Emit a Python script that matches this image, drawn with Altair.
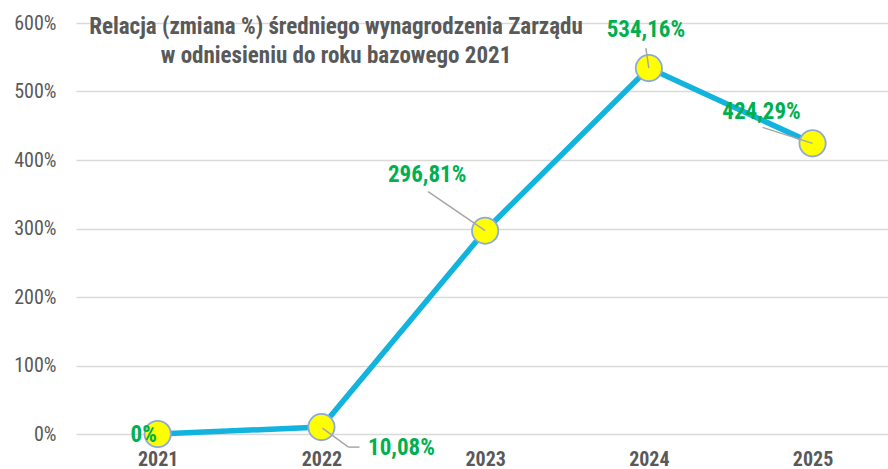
import altair as alt
import pandas as pd

years = ["2021", "2022", "2023", "2024", "2025"]
values = [0, 10.08, 296.81, 534.16, 424.29]
labels = ["0%", "10,08%", "296,81%", "534,16%", "424,29%"]
title_lines = ["Relacja (zmiana %) średniego wynagrodzenia Zarządu",
               "w odniesieniu do roku bazowego 2021"]

df = pd.DataFrame({"year": years, "value": values, "label": labels})

FONT = "Liberation Sans Narrow, Arial Narrow, Roboto Condensed, DejaVu Sans Condensed, sans-serif"
GRAY = "#595959"
GREEN = "#00B050"

x_enc = alt.X("year:O", title=None,
              scale=alt.Scale(type="point", padding=0.48, align=0.52),
              axis=alt.Axis(labelAngle=0, labelFont=FONT, labelFontSize=20,
                            labelFontWeight="bold", labelColor=GRAY,
                            labelPadding=15, ticks=False, domain=False,
                            grid=False))
y_enc = alt.Y("value:Q", title=None,
              scale=alt.Scale(domain=[0, 600], nice=False),
              axis=alt.Axis(values=[0, 100, 200, 300, 400, 500, 600],
                            labelExpr="datum.value + '%'",
                            labelFont=FONT, labelFontSize=20, labelColor=GRAY,
                            labelPadding=20, ticks=False, domain=False,
                            grid=True, gridColor="#D9D9D9", gridWidth=1.5))

base = alt.Chart(df)

line = base.mark_line(color="#12B4DE", strokeWidth=5.5).encode(x=x_enc, y=y_enc)
points = base.mark_point(shape="circle", filled=True, fill="#FFFF00", opacity=1,
                         stroke="#8EA9DB", strokeWidth=1.8, size=690).encode(
    x="year:O", y="value:Q")

# label offsets (pixels) and leader segments
label_offsets = {"2021": (-14, 1), "2022": (80, 21), "2023": (-58, -56),
                 "2024": (-3, -38), "2025": (-51, -31)}
leaders = [("2022", 1, 1, 27, 20), ("2022", 27, 20, 38, 20),
           ("2023", 0, 0, -57, -39), ("2024", 0, 0, -3, -20),
           ("2025", 0, 0, -50, -16)]

layers = [line, points]
for yr, x1, y1, x2, y2 in leaders:
    layers.append(
        base.transform_filter(alt.datum.year == yr).mark_rule(
            color="#A6A6A6", strokeWidth=1.5,
            xOffset=x1, yOffset=y1, x2Offset=x2, y2Offset=y2).encode(
            x="year:O", x2="year:O", y="value:Q", y2="value:Q"))
for yr, (dx, dy) in label_offsets.items():
    layers.append(
        base.transform_filter(alt.datum.year == yr).mark_text(
            font=FONT, fontSize=23, fontWeight="bold", color=GREEN,
            dx=dx, dy=dy, align="center", baseline="middle").encode(
            x="year:O", y="value:Q", text="label:N"))

title = alt.Chart(pd.DataFrame({"t": [title_lines]})).mark_text(
    font=FONT, fontSize=23, fontWeight="bold", color=GRAY, align="center",
    baseline="top", lineHeight=29).encode(
    x=alt.value(260), y=alt.value(-7), text="t")
layers.append(title)

chart = alt.layer(*layers).properties(
    width=812, height=411,
    autosize=alt.AutoSizeParams(type="none"),
    padding={"left": 76, "top": 23, "right": 0, "bottom": 35},
).configure_view(stroke=None)

chart.save("out.html", embed_options={"renderer": "svg", "actions": False})
